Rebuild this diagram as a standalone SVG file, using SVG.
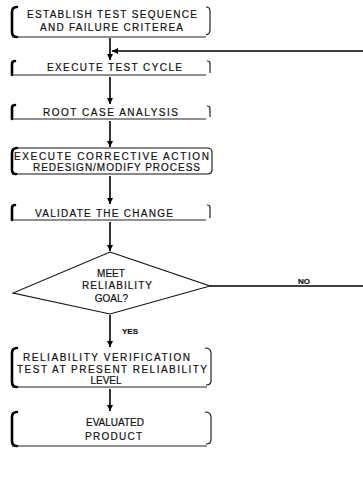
<svg xmlns="http://www.w3.org/2000/svg" width="363" height="484" viewBox="0 0 363 484">
<defs>
<style>
.t{font-family:"Liberation Sans",Arial,sans-serif;font-size:10px;fill:#111;stroke:#111;stroke-width:0.2;text-anchor:middle;}
.b{font-weight:bold;font-size:8px;}
.lb{fill:none;stroke:#000;stroke-width:2.6;stroke-linecap:round;}
.rb{fill:none;stroke:#111;stroke-width:1.1;}
.bl{fill:none;stroke:#222;stroke-width:1;}
.ln{fill:none;stroke:#000;stroke-width:1.6;}
</style>
<marker id="ah" viewBox="0 0 10 10" refX="10" refY="5" markerWidth="4" markerHeight="4.5" orient="auto" markerUnits="strokeWidth">
<path d="M0,0 L10,5 L0,10 Z" fill="#000"/>
</marker>
</defs>
<rect width="363" height="484" fill="#fff"/>

<g id="n1">
<path class="lb" d="M17,7 Q12,7 12,12 L12,32 Q12,37 17,37"/>
<path class="bl" d="M12,37 L206,37"/>
<path class="rb" d="M206,7 Q210,7 210,11 L210,30 Q210,34 206,35"/>
<text class="t" x="112" y="17.5" textLength="170" lengthAdjust="spacing">ESTABLISH TEST SEQUENCE</text>
<text class="t" x="111.5" y="30.5" textLength="143" lengthAdjust="spacing">AND FAILURE CRITEREA</text>
</g>

<g id="n2">
<path class="lb" d="M15,61 Q12,61 12,64 L12,75"/>
<path class="bl" d="M12,75 L206,75"/>
<path class="rb" d="M207,61 Q210,61 210,63 L210,73"/>
<text class="t" x="114.5" y="71" textLength="135" lengthAdjust="spacing">EXECUTE TEST CYCLE</text>
</g>

<g id="n3">
<path class="lb" d="M15,105 Q12,105 12,108 L12,119"/>
<path class="bl" d="M12,119 L206,119"/>
<path class="rb" d="M207,106 Q210,106 210,108 L210,117"/>
<text class="t" x="110.5" y="116" textLength="135" lengthAdjust="spacing">ROOT CASE ANALYSIS</text>
</g>

<g id="n4">
<path class="rb" d="M17,148 L207,148 Q212,148 212,152 L212,170 Q212,174 207,174 L12,174"/>
<path class="lb" d="M17,148 Q12,148 12,153 L12,170 Q12,174 16,174"/>
<text class="t" x="111.5" y="160" textLength="195" lengthAdjust="spacing">EXECUTE CORRECTIVE ACTION</text>
<text class="t" x="116.5" y="171" textLength="167" lengthAdjust="spacing">REDESIGN/MODIFY PROCESS</text>
</g>

<g id="n5">
<path class="lb" d="M15,205 Q12,205 12,208 L12,220"/>
<path class="bl" d="M12,220 L206,220"/>
<path class="rb" d="M207,205 Q210,205 210,207 L210,218"/>
<text class="t" x="104" y="216.5" textLength="138" lengthAdjust="spacing">VALIDATE THE CHANGE</text>
</g>

<g id="n6">
<path class="rb" d="M110,252 L210,286 L110,314 L13,293 Z"/>
<text class="t" x="111" y="276.5">MEET</text>
<text class="t" x="117" y="289" textLength="70" lengthAdjust="spacing">RELIABILITY</text>
<text class="t" x="111.5" y="301.5">GOAL?</text>
</g>

<g id="n7">
<path class="lb" d="M17,348 Q12,348 12,353 L12,382 Q12,387 17,387"/>
<path class="bl" d="M12,387 L207,387"/>
<path class="rb" d="M205,348 Q211,348 211,353 L211,381 Q211,385 206,385"/>
<text class="t" x="106.5" y="360.5" textLength="167" lengthAdjust="spacing">RELIABILITY VERIFICATION</text>
<text class="t" x="112" y="372.5" textLength="190" lengthAdjust="spacing">TEST AT PRESENT RELIABILITY</text>
<text class="t" x="106" y="384">LEVEL</text>
</g>

<g id="n8">
<path class="lb" d="M17,412 Q12,412 12,417 L12,441 Q12,446 17,446"/>
<path class="bl" d="M12,446 L207,446"/>
<path class="rb" d="M205,412 Q211,412 211,417 L211,440 Q211,444 206,444"/>
<text class="t" x="115" y="426">EVALUATED</text>
<text class="t" x="113.5" y="440" textLength="57" lengthAdjust="spacing">PRODUCT</text>
</g>

<g id="connectors">
<path class="ln" d="M110,38 L110,60" marker-end="url(#ah)"/>
<path class="ln" d="M363,51 L112,51" marker-end="url(#ah)"/>
<path class="ln" d="M110,77 L110,104" marker-end="url(#ah)"/>
<path class="ln" d="M110,121 L110,147" marker-end="url(#ah)"/>
<path class="ln" d="M110,176 L110,204" marker-end="url(#ah)"/>
<path class="ln" d="M110,222 L110,251" marker-end="url(#ah)"/>
<path class="ln" d="M210,286 L363,286"/>
<path class="ln" d="M110,315 L110,347" marker-end="url(#ah)"/>
<path class="ln" d="M110,389 L110,411" marker-end="url(#ah)"/>
<text class="t b" x="304" y="284">NO</text>
<text class="t b" x="130" y="334">YES</text>
</g>
</svg>
